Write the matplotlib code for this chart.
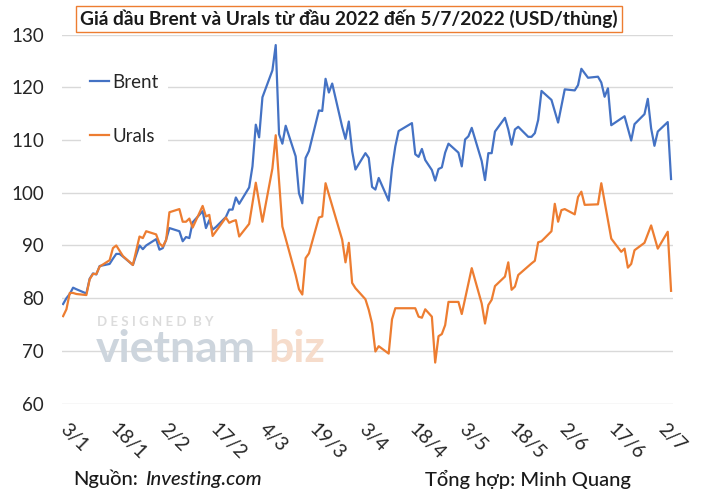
import matplotlib
matplotlib.use('Agg')
import matplotlib.pyplot as plt
import pandas as pd

# Brent price (USD/barrel)
brent_dates = [
    '2022-01-03', '2022-01-04', '2022-01-05', '2022-01-06', '2022-01-07', '2022-01-10',
    '2022-01-11', '2022-01-12', '2022-01-13', '2022-01-14', '2022-01-17', '2022-01-18',
    '2022-01-19', '2022-01-20', '2022-01-21', '2022-01-24', '2022-01-25', '2022-01-26',
    '2022-01-27', '2022-01-28', '2022-01-31', '2022-02-01', '2022-02-02', '2022-02-03',
    '2022-02-04', '2022-02-07', '2022-02-08', '2022-02-09', '2022-02-10', '2022-02-11',
    '2022-02-14', '2022-02-15', '2022-02-16', '2022-02-17', '2022-02-18', '2022-02-21',
    '2022-02-22', '2022-02-23', '2022-02-24', '2022-02-25', '2022-02-28', '2022-03-01',
    '2022-03-02', '2022-03-03', '2022-03-04', '2022-03-07', '2022-03-08', '2022-03-09',
    '2022-03-10', '2022-03-11', '2022-03-14', '2022-03-15', '2022-03-16', '2022-03-17',
    '2022-03-18', '2022-03-21', '2022-03-22', '2022-03-23', '2022-03-24', '2022-03-25',
    '2022-03-28', '2022-03-29', '2022-03-30', '2022-03-31', '2022-04-01', '2022-04-04',
    '2022-04-05', '2022-04-06', '2022-04-07', '2022-04-08', '2022-04-11', '2022-04-12',
    '2022-04-13', '2022-04-14', '2022-04-18', '2022-04-19', '2022-04-20', '2022-04-21',
    '2022-04-22', '2022-04-24', '2022-04-25', '2022-04-26', '2022-04-27', '2022-04-28',
    '2022-04-29', '2022-05-02', '2022-05-03', '2022-05-04', '2022-05-05', '2022-05-06',
    '2022-05-09', '2022-05-10', '2022-05-11', '2022-05-12', '2022-05-13', '2022-05-16',
    '2022-05-17', '2022-05-18', '2022-05-19', '2022-05-20', '2022-05-23', '2022-05-24',
    '2022-05-25', '2022-05-26', '2022-05-27', '2022-05-30', '2022-06-01', '2022-06-03',
    '2022-06-06', '2022-06-07', '2022-06-08', '2022-06-10', '2022-06-13', '2022-06-14',
    '2022-06-15', '2022-06-16', '2022-06-17', '2022-06-21', '2022-06-23', '2022-06-24',
    '2022-06-27', '2022-06-28', '2022-06-29', '2022-06-30', '2022-07-01', '2022-07-04',
    '2022-07-05',
]
brent_values = [
    78.9, 80.0, 80.8, 82.0, 81.7, 80.9,
    83.7, 84.7, 84.5, 86.1, 86.5, 87.5,
    88.4, 88.4, 87.9, 86.3, 88.2, 90.0,
    89.3, 90.0, 91.2, 89.2, 89.5, 91.1,
    93.3, 92.7, 90.8, 91.6, 91.4, 94.4,
    96.5, 93.3, 94.8, 93.0, 93.5, 95.4,
    96.8, 96.8, 99.1, 97.9, 101.0, 105.0,
    112.9, 110.5, 118.1, 123.2, 128.0, 111.1,
    109.3, 112.7, 106.9, 99.9, 98.0, 106.6,
    107.9, 115.6, 115.5, 121.6, 119.0, 120.7,
    112.5, 110.2, 113.5, 107.9, 104.4, 107.5,
    106.6, 101.1, 100.6, 102.8, 98.5, 104.6,
    108.8, 111.7, 113.2, 107.3, 106.8, 108.3,
    106.2, 104.3, 102.3, 104.5, 104.8, 107.6,
    109.3, 107.6, 105.0, 110.1, 110.7, 112.3,
    106.0, 102.4, 107.5, 107.5, 111.6, 114.2,
    112.0, 109.1, 112.0, 112.5, 110.6, 110.6,
    111.3, 113.8, 119.3, 117.6, 113.3, 119.6,
    119.4, 120.4, 123.5, 121.8, 122.0, 120.9,
    118.2, 119.8, 112.8, 114.5, 109.9, 113.0,
    114.9, 117.8, 112.2, 108.9, 111.6, 113.4,
    102.6,
]

# Urals price (USD/barrel)
urals_dates = [
    '2022-01-03', '2022-01-04', '2022-01-05', '2022-01-06', '2022-01-07', '2022-01-10',
    '2022-01-11', '2022-01-12', '2022-01-13', '2022-01-14', '2022-01-17', '2022-01-18',
    '2022-01-19', '2022-01-20', '2022-01-21', '2022-01-24', '2022-01-26', '2022-01-27',
    '2022-01-28', '2022-01-31', '2022-02-01', '2022-02-02', '2022-02-03', '2022-02-04',
    '2022-02-07', '2022-02-08', '2022-02-09', '2022-02-10', '2022-02-11', '2022-02-14',
    '2022-02-15', '2022-02-16', '2022-02-17', '2022-02-21', '2022-02-22', '2022-02-23',
    '2022-02-24', '2022-02-25', '2022-02-28', '2022-03-02', '2022-03-04', '2022-03-07',
    '2022-03-08', '2022-03-10', '2022-03-14', '2022-03-15', '2022-03-16', '2022-03-17',
    '2022-03-18', '2022-03-21', '2022-03-22', '2022-03-23', '2022-03-28', '2022-03-29',
    '2022-03-30', '2022-03-31', '2022-04-01', '2022-04-04', '2022-04-05', '2022-04-06',
    '2022-04-07', '2022-04-08', '2022-04-11', '2022-04-12', '2022-04-13', '2022-04-14',
    '2022-04-18', '2022-04-19', '2022-04-20', '2022-04-21', '2022-04-22', '2022-04-24',
    '2022-04-25', '2022-04-26', '2022-04-27', '2022-04-28', '2022-04-29', '2022-05-02',
    '2022-05-03', '2022-05-06', '2022-05-09', '2022-05-10', '2022-05-11', '2022-05-12',
    '2022-05-13', '2022-05-16', '2022-05-17', '2022-05-18', '2022-05-19', '2022-05-20',
    '2022-05-24', '2022-05-25', '2022-05-26', '2022-05-27', '2022-05-30', '2022-05-31',
    '2022-06-01', '2022-06-02', '2022-06-03', '2022-06-06', '2022-06-07', '2022-06-08',
    '2022-06-09', '2022-06-13', '2022-06-14', '2022-06-17', '2022-06-20', '2022-06-21',
    '2022-06-22', '2022-06-23', '2022-06-24', '2022-06-27', '2022-06-29', '2022-07-01',
    '2022-07-04', '2022-07-05',
]
urals_values = [
    76.6, 77.9, 81.0, 81.0, 80.8, 80.6,
    83.6, 84.6, 84.6, 86.0, 87.2, 89.5,
    90.0, 89.0, 88.0, 86.3, 91.7, 91.4,
    92.7, 92.1, 90.4, 89.8, 91.0, 96.3,
    96.9, 94.5, 94.5, 95.1, 93.4, 97.5,
    95.5, 95.8, 91.8, 95.3, 94.3, 94.6,
    94.8, 91.7, 94.1, 101.9, 94.5, 104.6,
    110.9, 93.6, 84.4, 81.7, 80.7, 87.6,
    88.5, 95.3, 95.5, 101.8, 91.1, 86.8,
    90.5, 82.9, 81.9, 79.8, 77.8, 75.2,
    69.9, 70.9, 69.5, 76.0, 78.1, 78.1,
    78.1, 78.1, 76.5, 76.3, 77.9, 76.5,
    67.8, 72.8, 73.2, 74.9, 79.3, 79.3,
    77.0, 85.7, 79.0, 75.2, 78.7, 79.7,
    82.3, 84.1, 86.8, 81.6, 82.2, 84.4,
    86.6, 87.1, 90.6, 90.8, 92.7, 97.9,
    94.5, 96.7, 96.9, 95.9, 99.2, 100.2,
    97.7, 97.8, 101.8, 91.3, 88.8, 89.4,
    85.8, 86.5, 89.1, 90.5, 93.8, 89.4,
    92.6, 81.4,
]

tick_dates = ['2022-01-03', '2022-01-18', '2022-02-02', '2022-02-17', '2022-03-04',
              '2022-03-19', '2022-04-03', '2022-04-18', '2022-05-03', '2022-05-18',
              '2022-06-02', '2022-06-17', '2022-07-02']
tick_labels = ['3/1', '18/1', '2/2', '17/2', '4/3', '19/3', '3/4', '18/4',
               '3/5', '18/5', '2/6', '17/6', '2/7']
y_ticks = [60, 70, 80, 90, 100, 110, 120, 130]

title = 'Giá dầu Brent và Urals từ đầu 2022 đến 5/7/2022 (USD/thùng)'

plt.rcParams['font.family'] = ['Lato', 'DejaVu Sans']

BLUE = '#4472C4'
ORANGE = '#ED7D31'
TEXT = '#262626'

fig = plt.figure(figsize=(7.01, 4.97), dpi=100)
ax = fig.add_axes([62 / 701, 1 - 403.7 / 497, 611 / 701, 369.2 / 497])

b_x = pd.to_datetime(brent_dates)
u_x = pd.to_datetime(urals_dates)

# watermark behind the data
fig.text(97 / 701, 1 - 322 / 497, 'D E S I G N E D  B Y', fontsize=9.5,
         color='#DCDCDC', fontweight='bold', va='center', zorder=0)
fig.text(96 / 701, 1 - 362 / 497, 'vietnam', fontsize=32, color='#CDD5DD',
         fontweight='bold', va='baseline', zorder=0)
fig.text(268 / 701, 1 - 362 / 497, 'biz', fontsize=32, color='#F6DCCB',
         fontweight='bold', va='baseline', zorder=0)

ax.plot(b_x, brent_values, color=BLUE, lw=1.6, label='Brent', zorder=3)
ax.plot(u_x, urals_values, color=ORANGE, lw=1.6, label='Urals', zorder=3)

ax.set_ylim(60, 130)
ax.set_yticks(y_ticks)
ax.set_xlim(pd.Timestamp('2022-01-03') - pd.Timedelta(hours=8),
            pd.Timestamp('2022-07-05') + pd.Timedelta(hours=14))
ax.set_xticks(pd.to_datetime(tick_dates))
ax.set_xticklabels(tick_labels, rotation=-45, rotation_mode='anchor',
                   ha='left', va='center')
ax.tick_params(axis='x', length=0, pad=16, labelsize=14, labelcolor=TEXT)
ax.tick_params(axis='y', length=0, pad=13, labelsize=13.5, labelcolor=TEXT)
ax.grid(axis='y', color='#D9D9D9', lw=1)
ax.set_axisbelow(True)
for s in ax.spines.values():
    s.set_visible(False)
ax.patch.set_alpha(0)

leg = ax.legend(loc='upper left', bbox_to_anchor=(0.015, 0.945), frameon=True,
                fontsize=13.5, handlelength=1.0, handletextpad=0.2,
                labelspacing=2.0, borderpad=0.5, fancybox=False)
leg.get_frame().set_facecolor('white')
leg.get_frame().set_edgecolor('none')
leg.get_frame().set_alpha(1)
for t in leg.get_texts():
    t.set_color(TEXT)

# title in an orange box
fig.text(349 / 701, 1 - 19 / 497, title, ha='center', va='center',
         fontsize=13.8, fontweight='bold', color='#1a1a1a',
         bbox=dict(boxstyle='square,pad=0.22', facecolor='white',
                   edgecolor=ORANGE, lw=1))

# footer
fig.text(73 / 701, 1 - 479 / 497, 'Nguồn:', ha='left', va='center',
         fontsize=14.5, fontweight='medium', color='#1a1a1a')
fig.text(145 / 701, 1 - 479 / 497, 'Investing.com', ha='left', va='center',
         fontsize=14.5, fontweight='medium', fontstyle='italic', color='#1a1a1a')
fig.text(425 / 701, 1 - 479 / 497, 'Tổng hợp: Minh Quang', ha='left', va='center',
         fontsize=14.5, fontweight='medium', color='#1a1a1a')

fig.savefig('out.png', dpi=100)
